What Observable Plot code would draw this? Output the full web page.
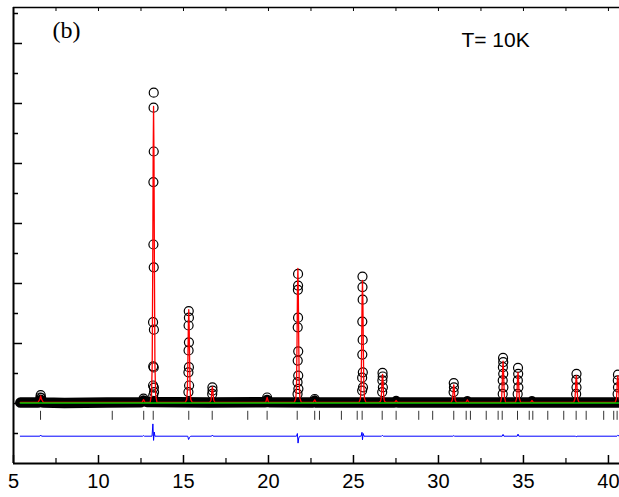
<!DOCTYPE html>
<html>
<head>
<meta charset="utf-8">
<script src="https://cdn.jsdelivr.net/npm/d3@7"></script>
<script src="https://cdn.jsdelivr.net/npm/@observablehq/plot@0.6"></script>
<style>
  html, body { margin: 0; padding: 0; background: #fff; overflow: hidden; }
  #chart svg { display: block; }
</style>
</head>
<body>
<div id="chart"></div>
<script>
// ---- data (arbitrary intensity units) ----
const xTicks = [5, 10, 15, 20, 25, 30, 35, 40];
const xMinorTicks = [7.5, 12.5, 17.5, 22.5, 27.5, 32.5, 37.5];
const yMajorTicks = [2, 4, 6, 8, 10, 12, 14];
const yMinorTicks = [1, 3, 5, 7, 9, 11, 13, 15];
const topTicks = [7.5, 10, 12.5, 15, 17.5, 20, 22.5, 25, 27.5, 30, 32.5, 35, 37.5, 40];

// Observed: dense baseline of points (drawn as a solid band)
const obsBaseline = [
  [5.4, 2.03], [6.45, 2.03], [6.6, 2.12], [6.75, 2.03], [8.0, 2.02], [10.5, 2.03],
  [12.5, 2.04], [12.65, 2.1], [12.85, 2.05], [16.5, 2.03], [19.8, 2.04], [19.92, 2.12],
  [20.05, 2.04], [22.6, 2.03], [22.72, 2.09], [22.85, 2.03], [27.4, 2.03], [27.51, 2.08],
  [27.62, 2.03], [31.6, 2.03], [31.7, 2.07], [31.8, 2.03], [35.4, 2.03], [35.5, 2.07],
  [35.6, 2.03], [40.65, 2.03]
];

// Observed: points standing out of the baseline at the reflections
const obsPeaks = [
  [6.58, 2.2], [6.6, 2.28], [6.63, 2.18],
  [12.65, 2.16],
  [13.22, 2.27], [13.21, 2.6], [13.22, 3.24], [13.21, 4.71], [13.23, 7.3], [13.23, 9.38],
  [13.24, 11.86], [13.25, 12.36], [13.25, 10.4], [13.25, 6.54], [13.26, 4.46], [13.25, 3.2],
  [13.26, 2.53], [13.27, 2.38],
  [15.29, 2.38], [15.29, 3.04], [15.3, 3.77], [15.3, 4.6], [15.31, 5.08], [15.32, 4.86],
  [15.32, 4.04], [15.32, 3.21], [15.33, 2.6],
  [16.69, 2.32], [16.7, 2.54], [16.71, 2.43],
  [19.92, 2.2],
  [21.71, 2.32], [21.71, 2.71], [21.72, 3.43], [21.72, 4.54], [21.73, 5.79], [21.74, 6.32],
  [21.74, 5.93], [21.74, 4.86], [21.75, 3.74], [21.75, 2.93], [21.76, 2.49],
  [22.72, 2.15],
  [25.51, 2.43], [25.51, 2.86], [25.52, 3.63], [25.52, 4.73], [25.53, 5.88], [25.53, 6.23],
  [25.54, 5.46], [25.54, 4.12], [25.55, 3.04], [25.56, 2.54],
  [26.69, 2.38], [26.7, 2.77], [26.71, 3.02], [26.72, 2.9], [26.73, 2.54],
  [30.89, 2.38], [30.9, 2.68], [30.91, 2.54],
  [33.78, 2.32], [33.78, 2.77], [33.79, 3.21], [33.8, 3.52], [33.81, 3.38], [33.81, 2.99], [33.82, 2.54],
  [34.66, 2.32], [34.67, 2.77], [34.68, 3.19], [34.69, 2.99], [34.7, 2.54],
  [38.1, 2.32], [38.11, 2.79], [38.12, 2.99], [38.12, 2.54],
  [40.54, 2.32], [40.55, 2.77], [40.56, 2.96], [40.56, 2.54]
];

// Calculated profile
const calcProfile = [
  [5.4, 2.04], [6.45, 2.04], [6.55, 2.14], [6.6, 2.25], [6.65, 2.14], [6.75, 2.04],
  [12.57, 2.04], [12.65, 2.13], [12.73, 2.04],
  [13.04, 2.04], [13.12, 2.3], [13.16, 3.3], [13.19, 6.48], [13.215, 10.13], [13.24, 11.9],
  [13.265, 10.13], [13.29, 6.48], [13.32, 3.3], [13.36, 2.3], [13.44, 2.04],
  [15.11, 2.04], [15.19, 2.13], [15.23, 2.44], [15.26, 3.43], [15.285, 4.57], [15.31, 5.13],
  [15.335, 4.57], [15.36, 3.43], [15.39, 2.44], [15.43, 2.13], [15.51, 2.04],
  [16.55, 2.04], [16.62, 2.11], [16.65, 2.27], [16.675, 2.46], [16.7, 2.55], [16.725, 2.46],
  [16.75, 2.27], [16.78, 2.11], [16.85, 2.04],
  [19.84, 2.04], [19.92, 2.2], [20.0, 2.04],
  [21.53, 2.04], [21.61, 2.17], [21.65, 2.62], [21.68, 4.05], [21.705, 5.70], [21.73, 6.5],
  [21.755, 5.70], [21.78, 4.05], [21.81, 2.62], [21.85, 2.17], [21.93, 2.04],
  [22.64, 2.04], [22.72, 2.12], [22.8, 2.04],
  [25.33, 2.04], [25.41, 2.16], [25.45, 2.57], [25.48, 3.87], [25.505, 5.37], [25.53, 6.1],
  [25.555, 5.37], [25.58, 3.87], [25.61, 2.57], [25.65, 2.16], [25.73, 2.04],
  [26.51, 2.04], [26.59, 2.07], [26.63, 2.16], [26.66, 2.46], [26.685, 2.8], [26.71, 2.97],
  [26.735, 2.8], [26.76, 2.46], [26.79, 2.16], [26.83, 2.07], [26.91, 2.04],
  [27.43, 2.04], [27.51, 2.1], [27.59, 2.04],
  [30.75, 2.04], [30.82, 2.12], [30.85, 2.3], [30.875, 2.52], [30.9, 2.62], [30.925, 2.52],
  [30.95, 2.3], [30.98, 2.12], [31.05, 2.04],
  [31.62, 2.04], [31.7, 2.12], [31.78, 2.04],
  [33.65, 2.04], [33.72, 2.22], [33.75, 2.66], [33.775, 3.16], [33.8, 3.41], [33.825, 3.16],
  [33.85, 2.66], [33.88, 2.22], [33.95, 2.04],
  [34.53, 2.04], [34.6, 2.17], [34.63, 2.49], [34.655, 2.86], [34.68, 3.04], [34.705, 2.86],
  [34.73, 2.49], [34.76, 2.17], [34.83, 2.04],
  [35.42, 2.04], [35.5, 2.1], [35.58, 2.04],
  [37.96, 2.04], [38.03, 2.16], [38.06, 2.44], [38.085, 2.77], [38.11, 2.93], [38.135, 2.77],
  [38.16, 2.44], [38.19, 2.16], [38.26, 2.04],
  [40.4, 2.04], [40.47, 2.16], [40.5, 2.44], [40.525, 2.77], [40.55, 2.92], [40.575, 2.77],
  [40.6, 2.44], [40.63, 2.16], [40.65, 2.1]
];

// Background
const background = [[5.4, 2.02], [20, 2.02], [40.65, 2.02]];

// Bragg reflection positions
const braggPositions = [
  6.59, 10.81, 12.66, 13.22, 15.31, 16.69, 18.78, 19.92, 21.69, 22.72, 23.0, 24.29,
  25.22, 25.51, 26.69, 27.51, 28.84, 29.66, 30.90, 31.63, 31.88, 32.81, 33.51, 33.75,
  34.65, 35.34, 35.55, 36.43, 37.37, 38.10, 38.69, 39.72, 40.31, 40.51
];

// Difference (obs - calc), offset
const difference = [
  [5.4, 0.91], [6.55, 0.91], [6.6, 0.95], [6.65, 0.91], [12.6, 0.91], [12.65, 0.93],
  [12.7, 0.91], [13.15, 0.91], [13.2, 1.32], [13.24, 0.77], [13.28, 1.05], [13.32, 0.91],
  [15.25, 0.91], [15.3, 0.8], [15.36, 0.87], [15.42, 0.91], [16.65, 0.91], [16.7, 0.95],
  [16.75, 0.91], [21.65, 0.91], [21.7, 1.0], [21.74, 0.68], [21.78, 0.85], [21.84, 0.91],
  [25.45, 0.91], [25.5, 1.04], [25.53, 0.79], [25.57, 1.0], [25.62, 0.91], [26.65, 0.91],
  [26.7, 0.94], [26.75, 0.91], [30.85, 0.91], [30.9, 0.93], [30.95, 0.91], [33.75, 0.91],
  [33.8, 0.97], [33.85, 0.91], [34.63, 0.91], [34.68, 0.98], [34.73, 0.91], [38.05, 0.91],
  [38.1, 0.89], [38.15, 0.91], [40.5, 0.91], [40.55, 0.94], [40.65, 0.91]
];

const panelLabel = "(b)";
const tempLabel = "T= 10K";

// ---- chart ----
const X = d => d[0], Y = d => d[1];
const px = 1 / 17;   // ~1 px in x data units
const py = 1 / 30;   // ~1 px in y data units

const chart = Plot.plot({
  width: 619,
  height: 497,
  marginLeft: 13,
  marginRight: 0,
  marginTop: 7,
  marginBottom: 34,
  style: { background: "white", fontFamily: "'Liberation Sans', Arial, sans-serif" },
  x: { domain: [5, 40.65] },
  y: { domain: [0, 15.2] },
  marks: [
    // axes labels
    Plot.axisX(xTicks, { tickSize: 0, tickPadding: 10, fontSize: 20, fill: "#000", tickFormat: d => String(d) }),
    Plot.axisY({ ticks: [], label: null }),
    // tick marks (inward)
    Plot.ruleX(xTicks, { x: d => d, y1: 0, y2: 8 * py, stroke: "#000", strokeWidth: 1.5 }),
    Plot.ruleX(xMinorTicks, { x: d => d, y1: 0, y2: 5 * py, stroke: "#000", strokeWidth: 1.2 }),
    Plot.ruleX(topTicks, { x: d => d, y1: 15.2 - 4 * py, y2: 15.2, stroke: "#000", strokeWidth: 1 }),
    Plot.ruleY(yMajorTicks, { y: d => d, x1: 5, x2: 5 + 9 * px, stroke: "#000", strokeWidth: 1.5 }),
    Plot.ruleY(yMinorTicks, { y: d => d, x1: 5, x2: 5 + 5 * px, stroke: "#000", strokeWidth: 1.5 }),
    // frame lines
    Plot.ruleX([5], { stroke: "#000", strokeWidth: 2 }),
    Plot.ruleY([0], { stroke: "#000", strokeWidth: 2 }),
    Plot.ruleY([15.2], { stroke: "#000", strokeWidth: 1.5 }),
    // Bragg positions
    Plot.ruleX(braggPositions, { x: d => d, y1: 1.44, y2: 1.74, stroke: "#333", strokeWidth: 1 }),
    // difference curve
    Plot.line(difference, { x: X, y: Y, stroke: "#0000ff", strokeWidth: 1 }),
    // observed
    Plot.line(obsBaseline, { x: X, y: Y, stroke: "#000", strokeWidth: 10.5, strokeLinecap: "round", strokeLinejoin: "round" }),
    Plot.dot(obsPeaks, { x: X, y: Y, r: 4.5, stroke: "#000", strokeWidth: 1.2, fill: "none" }),
    // calculated
    Plot.line(calcProfile, { x: X, y: Y, stroke: "#ff0000", strokeWidth: 1.3 }),
    // background
    Plot.line(background, { x: X, y: Y, stroke: "#00c800", strokeWidth: 1.5 }),
    // annotations
    Plot.text([panelLabel], { x: 7.3, y: 14.45, text: d => d, textAnchor: "start", fontSize: 24, fontFamily: "'Liberation Serif', 'Times New Roman', serif", fill: "#000" }),
    Plot.text([tempLabel], { x: 31.35, y: 14.1, text: d => d, textAnchor: "start", fontSize: 21, fontFamily: "'Liberation Sans', Arial, sans-serif", fill: "#000" })
  ]
});
document.getElementById("chart").appendChild(chart);
</script>
</body>
</html>
